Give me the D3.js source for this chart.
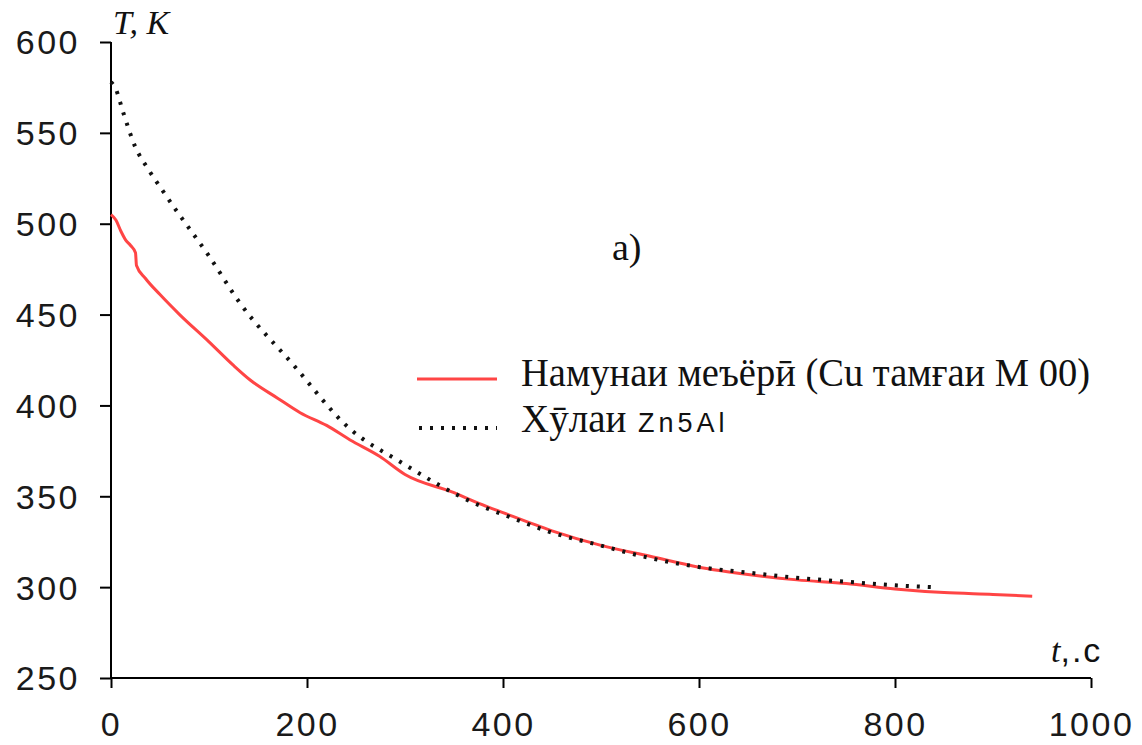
<!DOCTYPE html>
<html>
<head>
<meta charset="utf-8">
<script src="https://cdn.jsdelivr.net/npm/d3@7"></script>
<style>
  body { margin: 0; background: #fff; }
  .tick text { font-family: "Liberation Sans", Arial, sans-serif; font-size: 34px; letter-spacing: 2.5px; fill: #1a1a1a; }
  .serif { font-family: "Liberation Serif", "Times New Roman", serif; fill: #111; }
  .sans { font-family: "Liberation Sans", Arial, sans-serif; fill: #111; }
</style>
</head>
<body>
<div id="chart"></div>
<script>
// cooling curves, reference sample (Cu M00) and Zn5Al alloy
const refTime = [0, 5, 10, 15, 20, 25, 26, 35, 50, 70, 100, 125, 142, 170, 193, 220, 244, 274, 300, 350, 376, 400, 450, 500, 550, 600, 650, 700, 750, 800, 850, 900, 940];
const refTemp = [505, 502, 496, 491, 488, 484, 477, 470, 461, 450, 435, 422, 414, 404, 396, 389, 381, 372, 362, 352, 346, 341, 331, 323, 317, 311, 307, 304, 302, 299, 297, 296, 295];

const alloyTime = [0, 5, 12, 25, 38, 53, 67, 75, 99, 132, 185, 244, 295, 376, 400, 450, 499, 550, 601, 650, 703, 750, 800, 838];
const alloyTemp = [578, 574, 562, 542, 530, 518, 507, 501, 483, 456, 423, 387, 369, 345, 340, 330, 323, 316, 311, 308, 305, 303, 301, 300];

const xTicks = [0, 200, 400, 600, 800, 1000];
const yTicks = [250, 300, 350, 400, 450, 500, 550, 600];

const legendLabels = ['Намунаи меъёрӣ (Cu тамғаи М 00)', 'Хӯлаи'];
const alloyName = 'Zn5Al';

const width = 1142, height = 745;
const svg = d3.select('#chart').append('svg')
  .attr('width', width)
  .attr('height', height);

const x = d3.scaleLinear().domain([0, 1000]).range([111, 1091]);
const y = d3.scaleLinear().domain([250, 600]).range([678, 42]);

// axes
svg.append('g')
  .attr('transform', 'translate(0,678)')
  .call(d3.axisBottom(x).tickValues(xTicks).tickSize(10).tickPadding(24).tickFormat(d3.format('d')))
  .call(g => g.select('.domain').attr('stroke-width', 2).attr('d', 'M111,0H1091'))
  .call(g => g.selectAll('.tick line').attr('stroke-width', 2));

svg.append('g')
  .attr('transform', 'translate(111,0)')
  .call(d3.axisLeft(y).tickValues(yTicks).tickSize(11).tickPadding(20).tickFormat(d3.format('d')))
  .call(g => g.select('.domain').attr('stroke-width', 2).attr('d', 'M0,42V678'))
  .call(g => g.selectAll('.tick line').attr('stroke-width', 2))
  .call(g => g.selectAll('.tick text').attr('dy', '0.35em'));

// curves
const refData = refTime.map((t, i) => [t, refTemp[i]]);
const alloyData = alloyTime.map((t, i) => [t, alloyTemp[i]]);

const line = d3.line()
  .x(d => x(d[0]))
  .y(d => y(d[1]))
  .curve(d3.curveMonotoneX);

svg.append('path')
  .datum(refData)
  .attr('fill', 'none')
  .attr('stroke', '#ff4545')
  .attr('stroke-width', 3)
  .attr('d', line);

svg.append('path')
  .datum(alloyData)
  .attr('fill', 'none')
  .attr('stroke', '#111')
  .attr('stroke-width', 4)
  .attr('stroke-dasharray', '3,8')
  .attr('d', line);

// axis titles
svg.append('text').attr('class', 'serif')
  .attr('x', 113).attr('y', 34)
  .attr('font-size', 34).attr('font-style', 'italic')
  .text('T, K');

const tt = svg.append('text').attr('x', 1051).attr('y', 662).attr('font-size', 34);
tt.append('tspan').attr('class', 'serif').attr('font-style', 'italic').text('t');
tt.append('tspan').attr('class', 'sans').attr('letter-spacing', 2).text(',.c');

// panel label
svg.append('text').attr('class', 'serif')
  .attr('x', 612).attr('y', 260)
  .attr('font-size', 38)
  .text('a)');

// legend
const legend = svg.append('g');
legend.append('line')
  .attr('x1', 417).attr('x2', 497).attr('y1', 379).attr('y2', 379)
  .attr('stroke', '#ff4545').attr('stroke-width', 3);
legend.append('line')
  .attr('x1', 419).attr('x2', 497).attr('y1', 428).attr('y2', 428)
  .attr('stroke', '#111').attr('stroke-width', 4).attr('stroke-dasharray', '3,8');

legend.append('text').attr('class', 'serif')
  .attr('x', 521).attr('y', 386)
  .attr('font-size', 39)
  .attr('textLength', 569).attr('lengthAdjust', 'spacingAndGlyphs')
  .text(legendLabels[0]);

const l2 = legend.append('text').attr('x', 521).attr('y', 432);
l2.append('tspan').attr('class', 'serif').attr('font-size', 39).text(legendLabels[1]);
l2.append('tspan').attr('class', 'sans').attr('font-size', 27)
  .attr('x', 638).attr('letter-spacing', 4).text(alloyName);
</script>
</body>
</html>
